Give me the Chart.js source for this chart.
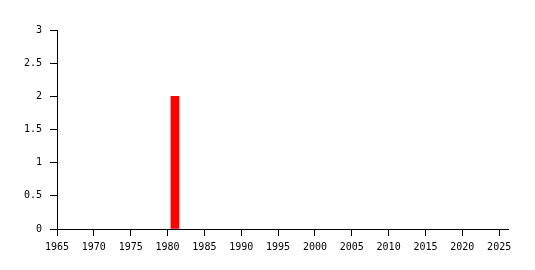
<!DOCTYPE html>
<html lang="en">
<head>
    <meta charset="UTF-8">
    <title>Bar chart</title>
    <script src="https://cdn.jsdelivr.net/npm/chart.js"></script>
    <style>
        html, body { margin: 0; padding: 0; background: #fff; }
        #wrap { width: 535px; height: 270px; }
    </style>
</head>
<body>
<div id="wrap"><canvas id="chart" width="535" height="270"></canvas></div>
<script>
    // data
    const years = [1981];
    const counts = [2];
    const xTicks = [1965, 1970, 1975, 1980, 1985, 1990, 1995, 2000, 2005, 2010, 2015, 2020, 2025];
    const yTicks = [0, 0.5, 1, 1.5, 2, 2.5, 3];

    const font = { family: 'DejaVu Sans Mono', size: 10 };

    const ctx = document.getElementById('chart').getContext('2d');
    new Chart(ctx, {
        type: 'bar',
        data: {
            datasets: [{
                data: years.map((y, i) => ({ x: y, y: counts[i] })),
                backgroundColor: '#ff0000',
                borderWidth: 0,
                barThickness: 8
            }]
        },
        options: {
            responsive: false,
            animation: false,
            layout: { padding: { left: 0, right: 27, top: 30, bottom: 0 } },
            plugins: { legend: { display: false }, tooltip: { enabled: false } },
            scales: {
                x: {
                    type: 'linear',
                    offset: false,
                    min: xTicks[0],
                    max: 2026.2,
                    afterFit: s => { s.height = 41; },
                    afterBuildTicks: s => { s.ticks = xTicks.map(v => ({ value: v })); },
                    grid: { offset: false, drawOnChartArea: false, drawTicks: true, tickLength: 7, color: '#000', tickColor: '#000' },
                    border: { color: '#000', width: 1 },
                    ticks: { color: '#000', font: font, padding: 5, maxRotation: 0, autoSkip: false, callback: v => String(v) }
                },
                y: {
                    min: 0,
                    max: 3,
                    afterFit: s => { s.width = 57; },
                    afterBuildTicks: s => { s.ticks = yTicks.map(v => ({ value: v })); },
                    grid: { drawOnChartArea: false, drawTicks: true, tickLength: 7, color: '#000', tickColor: '#000' },
                    border: { color: '#000', width: 1 },
                    ticks: { color: '#000', font: font, padding: 8, callback: v => String(v) }
                }
            }
        }
    });
</script>
</body>
</html>
